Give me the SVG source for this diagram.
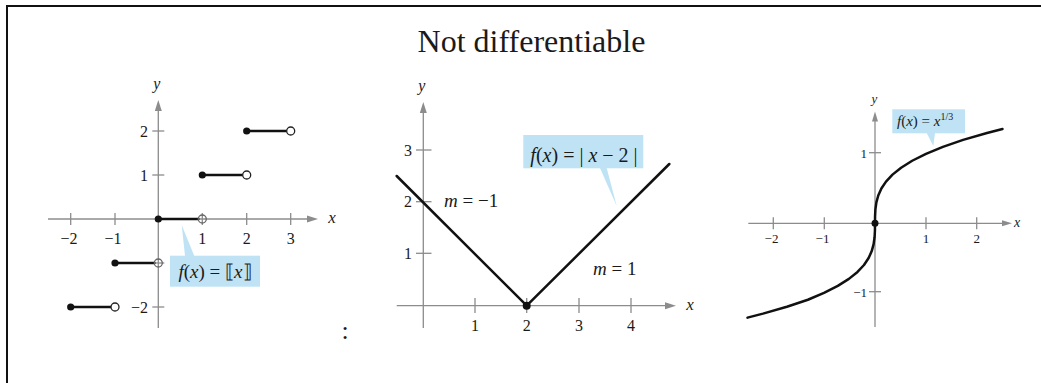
<svg xmlns="http://www.w3.org/2000/svg" width="1041" height="383" viewBox="0 0 1041 383">
<style>
.t{font-family:"Liberation Serif","Times New Roman",serif;fill:#1a1a1a}
.i{font-style:italic}
.ax{stroke:#8c8c8c;stroke-width:1.3;fill:none}
.cv{stroke:#111;stroke-width:2.5;fill:none;stroke-linecap:round;stroke-linejoin:round}
.co{fill:#bfe3f5}
.dot{fill:#111}
.od{fill:#fff;stroke:#222;stroke-width:1.3}
.og{fill:none;stroke:#666;stroke-width:1.3}
.ah{fill:#8c8c8c}
</style>
<rect x="0" y="0" width="1041" height="383" fill="#fff"/>
<rect x="7" y="6" width="1050" height="390" fill="none" stroke="#111" stroke-width="2"/>
<text class="t" x="531.5" y="51.5" font-size="32" text-anchor="middle">Not differentiable</text>
<text class="t" x="345" y="339" font-size="26" text-anchor="middle">:</text>

<g id="graph-floor">
  <line class="ax" x1="48" y1="219" x2="310" y2="219"/>
  <polygon class="ah" points="318,219 307,215.5 307,222.5"/>
  <line class="ax" x1="158.3" y1="110" x2="158.3" y2="328"/>
  <polygon class="ah" points="158.3,100 154.8,111 161.8,111"/>
  <g class="ax">
    <line x1="70.7" y1="213" x2="70.7" y2="225"/>
    <line x1="115" y1="213" x2="115" y2="225"/>
    <line x1="202.3" y1="213" x2="202.3" y2="225"/>
    <line x1="246.7" y1="213" x2="246.7" y2="225"/>
    <line x1="290.7" y1="213" x2="290.7" y2="225"/>
    <line x1="152.3" y1="131" x2="164.3" y2="131"/>
    <line x1="152.3" y1="175" x2="164.3" y2="175"/>
    <line x1="152.3" y1="263" x2="164.3" y2="263"/>
    <line x1="152.3" y1="307" x2="164.3" y2="307"/>
  </g>
  <g class="t" font-size="16" text-anchor="middle">
    <text x="69" y="244">−2</text>
    <text x="113" y="244">−1</text>
    <text x="202.3" y="244">1</text>
    <text x="246.7" y="244">2</text>
    <text x="290.7" y="244">3</text>
  </g>
  <g class="t" font-size="16" text-anchor="end">
    <text x="148" y="136.5">2</text>
    <text x="148" y="180.5">1</text>
    <text x="148" y="312.5">−2</text>
  </g>
  <text class="t i" x="332" y="223" font-size="17" text-anchor="middle">x</text>
  <text class="t i" x="156.7" y="89" font-size="16" text-anchor="middle">y</text>
  <g class="cv">
    <line x1="70.7" y1="307" x2="111" y2="307"/>
    <line x1="115" y1="263" x2="154.3" y2="263"/>
    <line x1="158.3" y1="219" x2="198.3" y2="219"/>
    <line x1="202.3" y1="175" x2="242.7" y2="175"/>
    <line x1="246.7" y1="131" x2="286.7" y2="131"/>
  </g>
  <circle class="dot" cx="70.7" cy="307" r="3.6"/>
  <circle class="dot" cx="115" cy="263" r="3.6"/>
  <circle class="dot" cx="158.3" cy="219" r="3.6"/>
  <circle class="dot" cx="202.3" cy="175" r="3.6"/>
  <circle class="dot" cx="246.7" cy="131" r="3.6"/>
  <circle class="od" cx="115" cy="307" r="4"/>
  <circle class="od" cx="246.7" cy="175" r="4"/>
  <circle class="od" cx="290.7" cy="131" r="4"/>
  <circle class="og" cx="158.3" cy="263" r="4"/>
  <circle class="og" cx="202.3" cy="219" r="4"/>
  <g id="callout-floor">
    <polygon class="co" points="181.7,225 185,256 194.3,256"/>
    <rect class="co" x="170" y="255.7" width="90" height="31"/>
    <text class="t" x="215" y="278.3" font-size="19" text-anchor="middle"><tspan class="i">f</tspan>(<tspan class="i">x</tspan>) = ⟦<tspan class="i">x</tspan>⟧</text>
  </g>
</g>

<g id="graph-abs">
  <line class="ax" x1="396.7" y1="305.7" x2="668" y2="305.7"/>
  <polygon class="ah" points="676,305.7 665,302.2 665,309.2"/>
  <line class="ax" x1="423.3" y1="112" x2="423.3" y2="328"/>
  <polygon class="ah" points="423.3,102 419.8,113 426.8,113"/>
  <g class="ax">
    <line x1="475" y1="298" x2="475" y2="313"/>
    <line x1="526.7" y1="298" x2="526.7" y2="313"/>
    <line x1="579" y1="298" x2="579" y2="313"/>
    <line x1="631" y1="298" x2="631" y2="313"/>
    <line x1="416" y1="150" x2="431.5" y2="150"/>
    <line x1="416" y1="201.7" x2="431.5" y2="201.7"/>
    <line x1="416" y1="253.3" x2="431.5" y2="253.3"/>
  </g>
  <g class="t" font-size="16" text-anchor="middle">
    <text x="475" y="331">1</text>
    <text x="526.7" y="331">2</text>
    <text x="579" y="331">3</text>
    <text x="631" y="331">4</text>
  </g>
  <g class="t" font-size="16" text-anchor="end">
    <text x="412" y="155.5">3</text>
    <text x="412" y="207">2</text>
    <text x="412" y="258.5">1</text>
  </g>
  <text class="t i" x="690" y="310" font-size="17" text-anchor="middle">x</text>
  <text class="t i" x="421.7" y="91" font-size="16" text-anchor="middle">y</text>
  <polyline class="cv" points="396.7,176 526.7,305.7 669.3,164"/>
  <circle class="dot" cx="526.7" cy="305.7" r="4"/>
  <text class="t" x="444" y="207" font-size="19"><tspan class="i">m</tspan> = −1</text>
  <text class="t" x="593" y="275" font-size="19"><tspan class="i">m</tspan> = 1</text>
  <g id="callout-abs">
    <polygon class="co" points="600,168 606.7,168 616.7,206"/>
    <rect class="co" x="523.3" y="135" width="120" height="33.3"/>
    <text class="t" x="584" y="161.7" font-size="20" text-anchor="middle"><tspan class="i">f</tspan>(<tspan class="i">x</tspan>) = | <tspan class="i">x</tspan> − 2 |</text>
  </g>
</g>

<g id="graph-cuberoot">
  <line class="ax" x1="748.3" y1="223.3" x2="1005" y2="223.3"/>
  <polygon class="ah" points="1012,223.3 1002,220.3 1002,226.3"/>
  <line class="ax" x1="875" y1="120" x2="875" y2="327"/>
  <polygon class="ah" points="875,111.5 872,121.5 878,121.5"/>
  <g class="ax">
    <line x1="773.3" y1="217.3" x2="773.3" y2="229.3"/>
    <line x1="824.3" y1="217.3" x2="824.3" y2="229.3"/>
    <line x1="926" y1="217.3" x2="926" y2="229.3"/>
    <line x1="976.7" y1="217.3" x2="976.7" y2="229.3"/>
    <line x1="869" y1="152.7" x2="881" y2="152.7"/>
    <line x1="869" y1="291.7" x2="881" y2="291.7"/>
  </g>
  <g class="t" font-size="13" text-anchor="middle">
    <text x="771.5" y="243">−2</text>
    <text x="822.5" y="243">−1</text>
    <text x="926" y="243">1</text>
    <text x="976.7" y="243">2</text>
  </g>
  <g class="t" font-size="13" text-anchor="end">
    <text x="867" y="157.5">1</text>
    <text x="867" y="296.5">−1</text>
  </g>
  <text class="t i" x="1017" y="227" font-size="14" text-anchor="middle">x</text>
  <text class="t i" x="874.3" y="103" font-size="13" text-anchor="middle">y</text>
  <polyline class="cv" points="747.5,317.63 763,313.65 786.9,306.7 807.9,299.75 824,292.8 837.8,285.85 848.9,278.9 857.5,271.95 864,265 868.62,258.05 871.74,251.1 873.62,244.15 874.59,237.2 874.95,230.25 875,223.3 875.05,216.35 875.41,209.4 876.38,202.45 878.26,195.5 881.38,188.55 886,181.6 892.5,174.65 901.1,167.7 912.2,160.75 926,153.8 942.9,146.85 963.1,139.9 987,132.95 1002.5,128.97"/>
  <circle class="dot" cx="875" cy="223.3" r="3.5"/>
  <g id="callout-cuberoot">
    <polygon class="co" points="926.7,133 935,133 933.3,146"/>
    <rect class="co" x="892.3" y="109.3" width="72.7" height="24"/>
    <text class="t" x="897" y="126" font-size="15"><tspan class="i">f</tspan>(<tspan class="i">x</tspan>) = <tspan class="i">x</tspan><tspan font-size="10" dy="-6">1/3</tspan></text>
  </g>
</g>
</svg>
